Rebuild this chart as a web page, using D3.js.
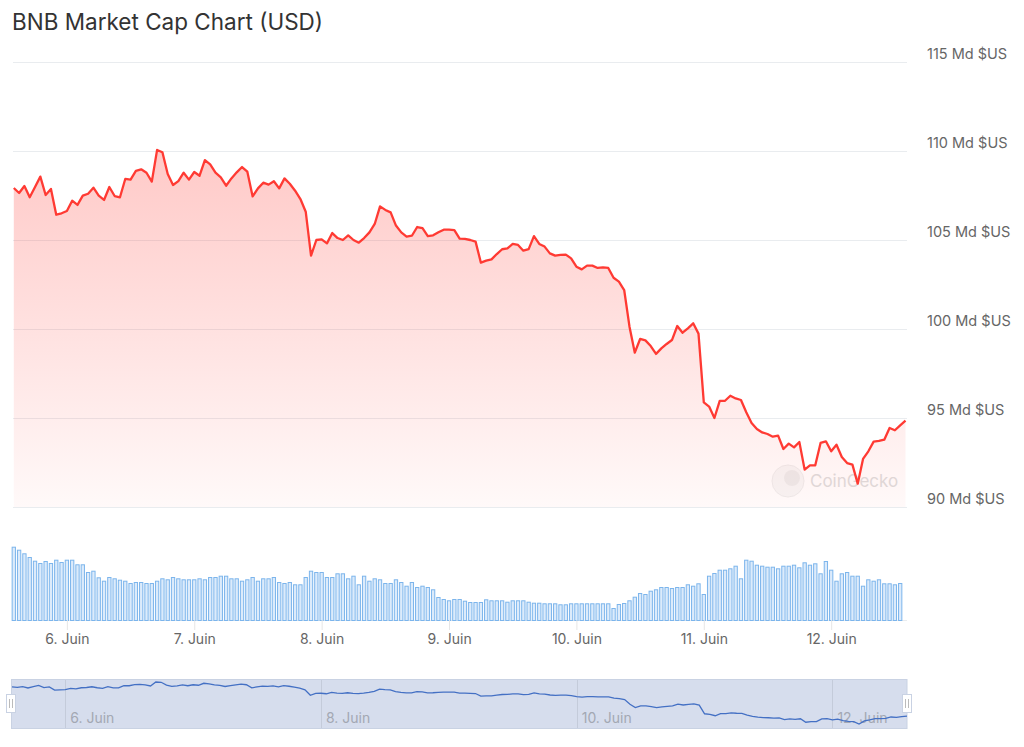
<!DOCTYPE html>
<html lang="fr">
<head>
<meta charset="utf-8">
<script src="https://d3js.org/d3.v7.min.js"></script>
<style>
  body { margin: 0; background: #fff; }
  svg { display: block; font-family: Inter, "Noto Sans", sans-serif; }
</style>
</head>
<body>
<svg id="chart" width="1024" height="747"></svg>
<script>
// hourly points, 5 juin 14:00 -> 12 juin 14:00
var startTime = new Date(2022, 5, 5, 14, 0);

// market cap, Md $US, one value per hour
var marketCap = [
  107.92, 107.64, 108.03, 107.40, 107.98, 108.56, 107.53, 107.87, 106.42, 106.50,
  106.63, 107.21, 106.97, 107.49, 107.60, 107.94, 107.49, 107.25, 107.98, 107.47,
  107.40, 108.43, 108.39, 108.88, 108.97, 108.78, 108.28, 110.06, 109.93, 108.71,
  108.09, 108.31, 108.78, 108.39, 108.82, 108.61, 109.49, 109.25, 108.78, 108.52,
  108.05, 108.46, 108.80, 109.10, 108.84, 107.45, 107.90, 108.22, 108.11, 108.30,
  107.90, 108.46, 108.16, 107.77, 107.30, 106.59, 104.12, 105.00, 105.04, 104.81,
  105.39, 105.11, 105.00, 105.26, 105.00, 104.85, 105.11, 105.43, 105.90, 106.89,
  106.69, 106.55, 105.81, 105.43, 105.19, 105.24, 105.73, 105.67, 105.22, 105.26,
  105.43, 105.58, 105.58, 105.56, 105.08, 105.06, 105.00, 104.91, 103.73, 103.84,
  103.91, 104.21, 104.48, 104.53, 104.78, 104.72, 104.40, 104.49, 105.22, 104.78,
  104.63, 104.25, 104.12, 104.16, 104.18, 103.97, 103.50, 103.35, 103.56, 103.56,
  103.43, 103.46, 103.43, 102.88, 102.66, 102.19, 100.13, 98.67, 99.44, 99.36,
  99.04, 98.60, 98.91, 99.16, 99.38, 100.17, 99.79, 100.04, 100.32, 99.74,
  95.88, 95.64, 95.00, 95.96, 95.97, 96.25, 96.10, 96.01, 95.32, 94.72,
  94.38, 94.19, 94.10, 93.95, 94.01, 93.26, 93.56, 93.35, 93.65, 92.10,
  92.34, 92.34, 93.60, 93.69, 93.13, 93.50, 92.81, 92.47, 92.38, 91.31,
  92.70, 93.13, 93.67, 93.71, 93.78, 94.44, 94.31, 94.59, 94.85
];

// hourly volume (relative units)
var volume = [
  73.3, 70.3, 66.7, 63.0, 59.3, 57.0, 59.0, 57.0, 60.3, 58.0,
  60.3, 60.3, 55.7, 55.7, 48.0, 49.3, 42.7, 39.3, 43.0, 41.7,
  40.3, 39.3, 37.0, 38.0, 38.0, 37.0, 37.0, 39.3, 41.7, 40.7,
  43.0, 41.7, 40.7, 40.7, 40.7, 41.7, 40.7, 43.0, 43.0, 44.3,
  44.3, 41.7, 41.7, 39.3, 40.7, 43.0, 39.3, 41.7, 41.7, 43.0,
  38.0, 37.0, 38.0, 35.7, 35.7, 43.0, 49.3, 48.0, 48.0, 43.0,
  43.0, 46.7, 46.7, 41.7, 44.3, 35.7, 44.3, 39.3, 41.7, 40.7,
  37.0, 37.0, 40.7, 38.0, 34.3, 38.0, 33.0, 34.3, 33.0, 30.7,
  23.0, 21.0, 19.7, 21.0, 21.0, 19.3, 18.0, 18.0, 18.0, 20.7,
  19.7, 19.7, 19.7, 18.3, 19.7, 19.7, 19.7, 18.3, 17.3, 17.3,
  16.7, 16.7, 16.7, 15.7, 15.7, 16.7, 16.7, 16.7, 16.7, 16.7,
  16.7, 16.7, 16.7, 12.0, 16.0, 17.0, 19.7, 23.3, 27.0, 26.0,
  29.3, 30.7, 33.0, 33.0, 32.0, 33.0, 33.0, 35.7, 34.3, 36.7,
  26.0, 44.3, 47.0, 50.3, 50.3, 51.7, 54.3, 41.7, 60.3, 59.3,
  55.3, 54.3, 53.3, 53.3, 51.7, 54.3, 54.3, 55.3, 52.7, 57.7,
  55.3, 56.7, 46.7, 59.0, 50.3, 39.3, 46.7, 48.0, 44.3, 44.3,
  34.3, 40.7, 39.3, 40.7, 36.7, 36.7, 35.7, 37.0
];

var yTicks = [90, 95, 100, 105, 110, 115];
var dayTicks = [6, 7, 8, 9, 10, 11, 12];
var navDayTicks = [6, 8, 10, 12];

var HOUR = 3600 * 1000;
var priceData = marketCap.map(function (v, i) {
  return { t: new Date(startTime.getTime() + i * HOUR), v: v };
});
var volData = volume.map(function (v, i) {
  return { t: new Date(startTime.getTime() + i * HOUR), v: v };
});
var endTime = priceData[priceData.length - 1].t;

var svg = d3.select("#chart");
var left = 13, right = 907;

// title
svg.append("text")
  .attr("x", 12).attr("y", 30)
  .attr("font-size", 22.5)
  .attr("fill", "#333")
  .text("BNB Market Cap Chart (USD)");

var x = d3.scaleTime().domain([startTime, endTime]).range([13.8, 905.5]);
var y = d3.scaleLinear().domain([90, 115]).range([507, 62]);

// grid lines + y labels
svg.append("g").selectAll("line")
  .data(yTicks).enter().append("line")
  .attr("x1", left).attr("x2", right)
  .attr("y1", function (d) { return y(d) + 0.5; })
  .attr("y2", function (d) { return y(d) + 0.5; })
  .attr("stroke", "#e9ecef").attr("stroke-width", 1);

svg.append("g").selectAll("text")
  .data(yTicks).enter().append("text")
  .attr("x", 927)
  .attr("y", function (d) { return y(d) - 3; })
  .attr("font-size", 14.5)
  .attr("fill", "#666")
  .text(function (d) { return d + " Md $US"; });

// area gradient
var defs = svg.append("defs");
var grad = defs.append("linearGradient")
  .attr("id", "areaGrad")
  .attr("gradientUnits", "userSpaceOnUse")
  .attr("x1", 0).attr("y1", 140).attr("x2", 0).attr("y2", 507);
grad.append("stop").attr("offset", 0).attr("stop-color", "#ff3a33").attr("stop-opacity", 0.28);
grad.append("stop").attr("offset", 1).attr("stop-color", "#ff3a33").attr("stop-opacity", 0.03);

var area = d3.area()
  .x(function (d) { return x(d.t); })
  .y0(507)
  .y1(function (d) { return y(d.v); });
var line = d3.line()
  .x(function (d) { return x(d.t); })
  .y(function (d) { return y(d.v); });

// watermark
var wm = svg.append("g").attr("opacity", 0.55);
wm.append("circle").attr("cx", 788).attr("cy", 481).attr("r", 16)
  .attr("fill", "#f2f2f2").attr("stroke", "#e0e0e0");
wm.append("circle").attr("cx", 792).attr("cy", 478).attr("r", 8).attr("fill", "#dedede");
wm.append("text").attr("x", 810).attr("y", 487)
  .attr("font-size", 17).attr("fill", "#c4c4c4").text("CoinGecko");

svg.append("path").datum(priceData)
  .attr("d", area)
  .attr("fill", "url(#areaGrad)");
svg.append("path").datum(priceData)
  .attr("d", line)
  .attr("fill", "none")
  .attr("stroke", "#ff3a33")
  .attr("stroke-width", 2.3)
  .attr("stroke-linejoin", "round");

// volume panel
var yv = d3.scaleLinear().domain([0, 80]).range([620, 540]);
var barW = 4.3;

svg.append("line")
  .attr("x1", left).attr("x2", right)
  .attr("y1", 620.5).attr("y2", 620.5)
  .attr("stroke", "#e9ecef");

svg.append("g").selectAll("rect")
  .data(volData).enter().append("rect")
  .attr("x", function (d) { return x(d.t) - barW / 2 + 0.5; })
  .attr("y", function (d) { return yv(d.v) + 0.5; })
  .attr("width", barW - 1)
  .attr("height", function (d) { return 620 - yv(d.v); })
  .attr("fill", "#dcebfb")
  .attr("stroke", "#7cb5ec")
  .attr("stroke-width", 1);

var dayDates = dayTicks.map(function (d) { return new Date(2022, 5, d); });
var xAxis = svg.append("g")
  .attr("transform", "translate(0,620)")
  .call(d3.axisBottom(x).tickValues(dayDates).tickSize(10).tickPadding(4)
    .tickFormat(function (d) { return d.getDate() + ". Juin"; }));
xAxis.select(".domain").remove();
xAxis.selectAll("line").attr("stroke", "#e6e6e6");
xAxis.selectAll("text")
  .attr("font-size", 14)
  .attr("font-family", "Inter, 'Noto Sans', sans-serif")
  .attr("fill", "#666");

// navigator
var nav = svg.append("g");
var xn = d3.scaleTime().domain([startTime, endTime]).range([12, 907]);
var yn = d3.scaleLinear().domain(d3.extent(marketCap)).range([724, 682]);

nav.append("rect")
  .attr("x", 11.5).attr("y", 679.5).attr("width", 895.5).attr("height", 49)
  .attr("fill", "#d6dded").attr("stroke", "#c9d2e3");

nav.selectAll(".navTick")
  .data(navDayTicks).enter().append("line")
  .attr("x1", function (d) { return Math.round(xn(new Date(2022, 5, d))) + 0.5; })
  .attr("x2", function (d) { return Math.round(xn(new Date(2022, 5, d))) + 0.5; })
  .attr("y1", 680).attr("y2", 728)
  .attr("stroke", "#c4cbda");

nav.selectAll(".navLabel")
  .data(navDayTicks).enter().append("text")
  .attr("x", function (d) { return xn(new Date(2022, 5, d)) + 5; })
  .attr("y", 723)
  .attr("font-size", 14)
  .attr("fill", "#a3a8b3")
  .text(function (d) { return d + ". Juin"; });

nav.append("path").datum(priceData)
  .attr("d", d3.line()
    .x(function (d) { return xn(d.t); })
    .y(function (d) { return yn(d.v); }))
  .attr("fill", "none")
  .attr("stroke", "#4470c4")
  .attr("stroke-width", 1.3);

// handles
[11, 907].forEach(function (hx) {
  var h = nav.append("g");
  h.append("rect")
    .attr("x", hx - 4.5).attr("y", 694.5).attr("width", 9).attr("height", 18)
    .attr("fill", "#fff").attr("stroke", "#c9d2e3");
  h.append("line").attr("x1", hx - 1.5).attr("x2", hx - 1.5)
    .attr("y1", 699).attr("y2", 708).attr("stroke", "#bbb");
  h.append("line").attr("x1", hx + 1.5).attr("x2", hx + 1.5)
    .attr("y1", 699).attr("y2", 708).attr("stroke", "#bbb");
});
</script>
</body>
</html>
